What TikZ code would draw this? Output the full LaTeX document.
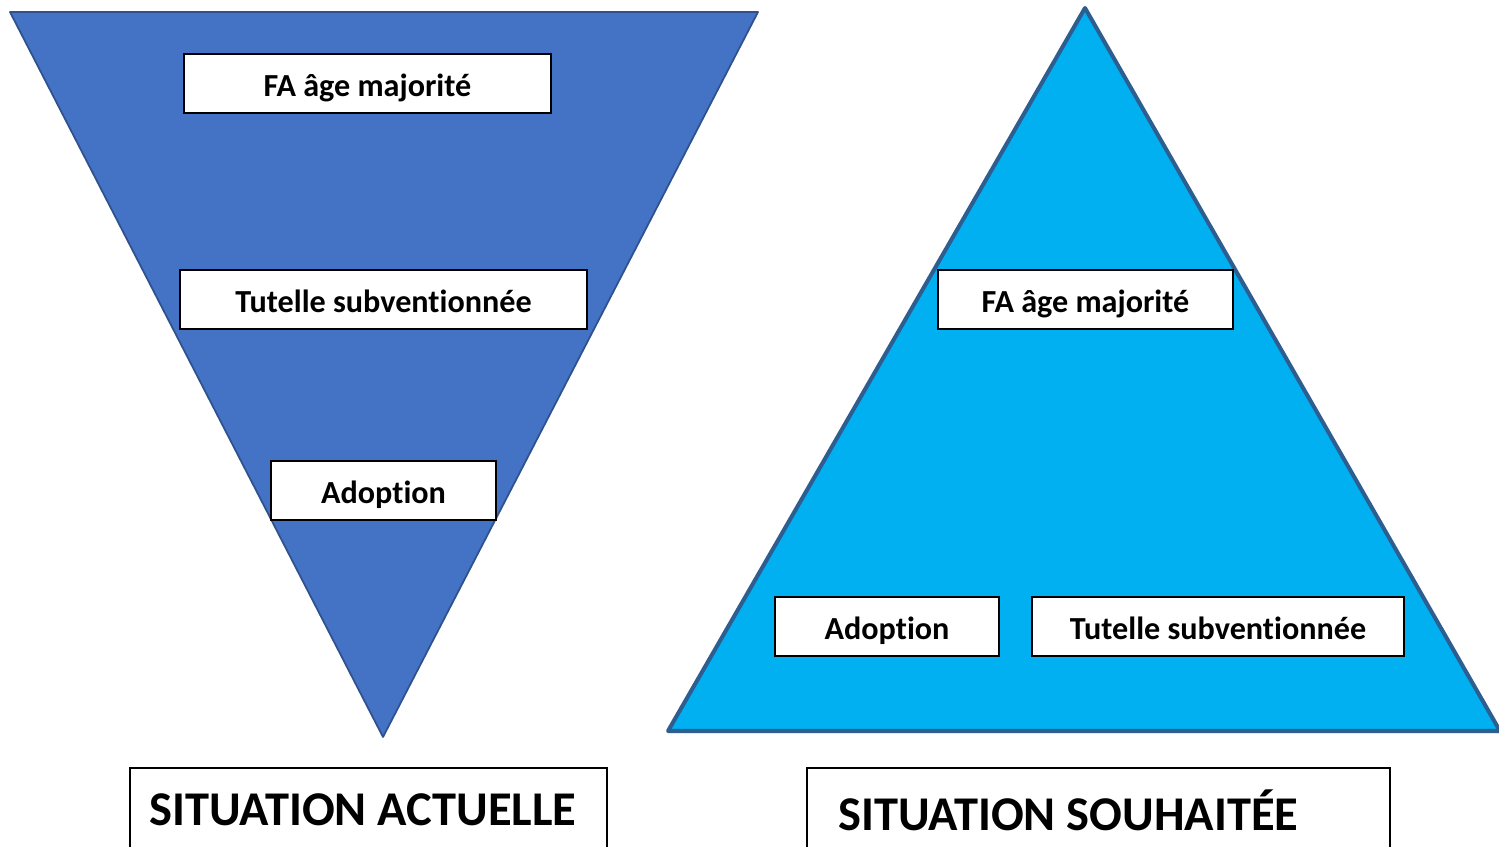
\documentclass[tikz,border=0pt]{standalone}
\usepackage{fontspec}
\setmainfont{Carlito}[Ligatures=NoCommon]
\usepackage{tikz}

\definecolor{pyrblue}{RGB}{68,114,196}
\definecolor{pyrcyan}{RGB}{0,176,240}
\definecolor{pyredge}{RGB}{47,82,143}
\definecolor{pyredgeb}{RGB}{46,94,144}

\tikzset{
    levelbox/.style={draw=black, line width=1pt, fill=white, minimum height=1.18cm,
        inner sep=0pt, text height=0.5cm, text depth=0pt,
        font=\fontsize{18.3}{20}\selectfont\bfseries},
    titlebox/.style={draw=black, line width=1pt, fill=white, inner sep=0pt},
    titletext/.style={anchor=base west, inner sep=0pt, font=\fontsize{27.6}{30}\selectfont\bfseries}
}

\begin{document}
\begin{tikzpicture}[x=0.02cm, y=-0.02cm]
    \useasboundingbox (0,0) rectangle (1499,846);
    \clip (0,0) rectangle (1499,846);
    \fill[white] (0,0) rectangle (1499,846);

    % Current situation: inverted triangle
    \draw[fill=pyrblue, draw=pyredge, line width=1pt, line join=round] (10,12) -- (758,12) -- (383,737) -- cycle;

    % Desired situation: upright triangle
    \draw[fill=pyrcyan, draw=pyredgeb, line width=2.3pt, line join=round] (1085,8) -- (1500,731) -- (668,731) -- cycle;

    % Levels, left
    \node[levelbox, minimum width=7.34cm] (curfa) at (367.5,83.5) {FA âge majorité};
    \node[levelbox, minimum width=8.14cm] (curtut) at (383.5,299.5) {Tutelle subventionnée};
    \node[levelbox, minimum width=4.5cm] (curadopt) at (383.5,490.5) {Adoption};

    % Levels, right
    \node[levelbox, minimum width=5.9cm] (newfa) at (1085.5,299.5) {FA âge majorité};
    \node[levelbox, minimum width=4.48cm] (newadopt) at (887,626.5) {Adoption};
    \node[levelbox, minimum width=7.44cm] (newtut) at (1218,626.5) {Tutelle subventionnée};

    % Titles
    \node[titlebox, anchor=north west, minimum width=9.54cm, minimum height=3cm] (curbox) at (129,767) {};
    \node[titletext] (curtitle) at (149,825) {SITUATION ACTUELLE};
    \node[titlebox, anchor=north west, minimum width=11.66cm, minimum height=3cm] (newbox) at (806,767) {};
    \node[titletext] (newtitle) at (838,830) {SITUATION SOUHAITÉE};
\end{tikzpicture}
\end{document}
